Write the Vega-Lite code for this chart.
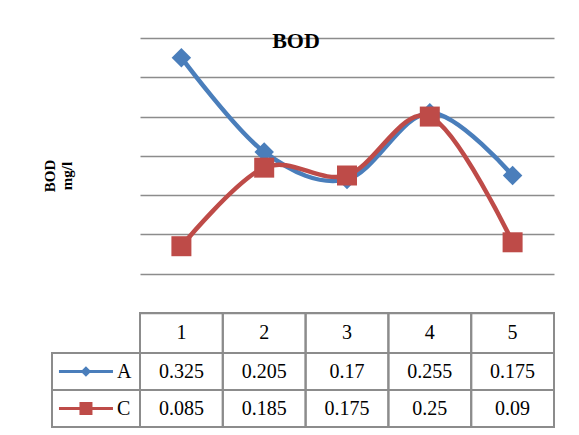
{
  "$schema": "https://vega.github.io/schema/vega-lite/v6.json",
  "padding": {"left": 42, "top": 30, "right": 0, "bottom": 0},
  "background": "white",
  "config": {"view": {"stroke": null}, "font": "Liberation Serif", "text": {"color": "black"}},
  "datasets": {
    "bod": [
      {"x": 1, "series": "A", "value": 0.325},
      {"x": 2, "series": "A", "value": 0.205},
      {"x": 3, "series": "A", "value": 0.17},
      {"x": 4, "series": "A", "value": 0.255},
      {"x": 5, "series": "A", "value": 0.175},
      {"x": 1, "series": "C", "value": 0.085},
      {"x": 2, "series": "C", "value": 0.185},
      {"x": 3, "series": "C", "value": 0.175},
      {"x": 4, "series": "C", "value": 0.25},
      {"x": 5, "series": "C", "value": 0.09}
    ]
  },
  "columns": 2,
  "spacing": 0,
  "bounds": "flush",
  "concat": [
    {"width": 88, "height": 275, "data": {"values": []}, "mark": "point"},
    {
      "width": 414, "height": 275,
      "title": {"text": "BOD", "font": "Liberation Serif", "fontSize": 22, "fontWeight": "bold", "color": "black", "offset": -32, "baseline": "alphabetic", "dx": -51},
      "data": {"name": "bod"},
      "encoding": {
        "x": {"field": "x", "type": "ordinal", "scale": {"type": "point", "padding": 0.5}, "axis": null},
        "y": {"field": "value", "type": "quantitative",
          "scale": {"domain": [0, 0.35], "nice": false},
          "axis": {"values": [0, 0.05, 0.1, 0.15, 0.2, 0.25, 0.3, 0.35], "labels": false, "ticks": false, "domain": false, "grid": true, "gridColor": "#8c8c8c", "gridWidth": 1.5,
            "title": ["BOD", "mg/l"], "titleFont": "Liberation Serif", "titleFontSize": 15, "titleFontWeight": "bold", "titleColor": "black", "titlePadding": 66, "titleLineHeight": 17}},
        "color": {"field": "series", "type": "nominal", "scale": {"domain": ["A", "C"], "range": ["#4a7ebb", "#be4b48"]}, "legend": null}
      },
      "layer": [
        {"transform": [{"filter": "datum.series === 'A'"}], "mark": {"type": "line", "interpolate": "cardinal", "tension": 0, "strokeWidth": 4.5}},
        {"transform": [{"filter": "datum.series === 'A'"}], "mark": {"type": "point", "shape": "diamond", "filled": true, "opacity": 1, "size": 380}},
        {"transform": [{"filter": "datum.series === 'C'"}], "mark": {"type": "line", "interpolate": "cardinal", "tension": 0, "strokeWidth": 4.5}},
        {"transform": [{"filter": "datum.series === 'C'"}], "mark": {"type": "point", "shape": "square", "filled": true, "opacity": 1, "size": 400}}
      ]
    },
    {"width": 88, "height": 40, "data": {"values": []}, "mark": "point"},
    {
      "width": 414, "height": 40,
      "data": {"name": "bod"},
      "transform": [{"filter": "datum.series === 'A'"}],
      "encoding": {
        "x": {"field": "x", "type": "ordinal", "scale": {"type": "band", "paddingInner": 0, "paddingOuter": 0}, "axis": null}
      },
      "layer": [
        {"mark": {"type": "rect", "fill": "transparent", "stroke": "#8c8c8c", "strokeWidth": 2}},
        {"mark": {"type": "text", "fontSize": 20, "baseline": "middle"}, "encoding": {"text": {"field": "x", "type": "nominal"}}}
      ]
    },
    {
      "width": 88, "height": 74,
      "data": {"name": "bod"},
      "transform": [{"filter": "datum.x === 1"}],
      "encoding": {
        "y": {"field": "series", "type": "nominal", "scale": {"domain": ["A", "C"], "paddingInner": 0, "paddingOuter": 0}, "axis": null}
      },
      "layer": [
        {"mark": {"type": "rect", "fill": "transparent", "stroke": "#8c8c8c", "strokeWidth": 2}},
        {"mark": {"type": "point", "shape": "stroke", "size": 2916, "strokeWidth": 3, "opacity": 1, "filled": false},
          "encoding": {
            "x": {"datum": "glyph", "type": "nominal", "scale": {"type": "point", "domain": ["glyph", "label"], "padding": 0.919, "align": 0.596}, "axis": null},
            "color": {"field": "series", "type": "nominal", "scale": {"domain": ["A", "C"], "range": ["#4a7ebb", "#be4b48"]}, "legend": null}
          }},
        {"transform": [{"filter": "datum.series === 'A'"}], "mark": {"type": "point", "shape": "diamond", "size": 110, "filled": true, "opacity": 1},
          "encoding": {
            "x": {"datum": "glyph", "type": "nominal", "scale": {"type": "point", "domain": ["glyph", "label"], "padding": 0.919, "align": 0.596}, "axis": null},
            "color": {"field": "series", "type": "nominal", "scale": {"domain": ["A", "C"], "range": ["#4a7ebb", "#be4b48"]}, "legend": null}
          }},
        {"transform": [{"filter": "datum.series === 'C'"}], "mark": {"type": "point", "shape": "square", "size": 169, "filled": true, "opacity": 1},
          "encoding": {
            "x": {"datum": "glyph", "type": "nominal", "scale": {"type": "point", "domain": ["glyph", "label"], "padding": 0.919, "align": 0.596}, "axis": null},
            "color": {"field": "series", "type": "nominal", "scale": {"domain": ["A", "C"], "range": ["#4a7ebb", "#be4b48"]}, "legend": null}
          }},
        {"mark": {"type": "text", "align": "left", "baseline": "middle", "fontSize": 20},
          "encoding": {
            "x": {"datum": "label", "type": "nominal", "scale": {"type": "point", "domain": ["glyph", "label"], "padding": 0.919, "align": 0.596}, "axis": null},
            "text": {"field": "series", "type": "nominal"}
          }}
      ]
    },
    {
      "width": 414, "height": 74,
      "data": {"name": "bod"},
      "encoding": {
        "x": {"field": "x", "type": "ordinal", "scale": {"type": "band", "paddingInner": 0, "paddingOuter": 0}, "axis": null},
        "y": {"field": "series", "type": "nominal", "scale": {"domain": ["A", "C"], "paddingInner": 0, "paddingOuter": 0}, "axis": null}
      },
      "layer": [
        {"mark": {"type": "rect", "fill": "transparent", "stroke": "#8c8c8c", "strokeWidth": 2}},
        {"mark": {"type": "text", "fontSize": 20, "baseline": "middle"}, "encoding": {"text": {"field": "value", "type": "nominal"}}}
      ]
    }
  ]
}
